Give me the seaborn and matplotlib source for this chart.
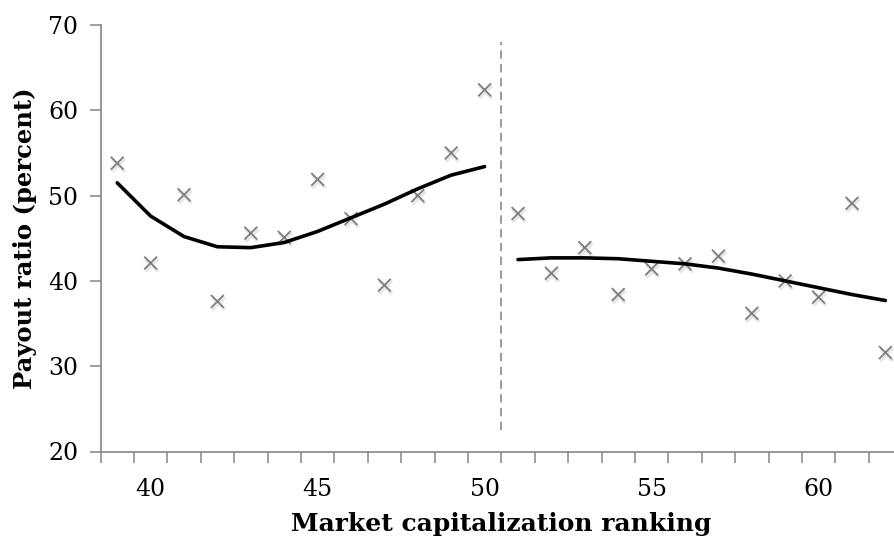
import numpy as np
import pandas as pd
import matplotlib
matplotlib.use("Agg")
import matplotlib.pyplot as plt
import matplotlib.patheffects as pe
import seaborn as sns

# Data
rank_left = [39, 40, 41, 42, 43, 44, 45, 46, 47, 48, 49, 50]
payout_left = [53.8, 42.1, 50.1, 37.6, 45.6, 45.1, 51.9, 47.3, 39.5, 50.0, 55.0, 62.4]
fit_left = [51.5, 47.6, 45.2, 44.0, 43.9, 44.5, 45.8, 47.4, 49.0, 50.8, 52.4, 53.4]

rank_right = [51, 52, 53, 54, 55, 56, 57, 58, 59, 60, 61, 62]
payout_right = [47.9, 40.9, 43.9, 38.4, 41.4, 42.0, 42.9, 36.2, 40.0, 38.1, 49.1, 31.6]
fit_right = [42.5, 42.7, 42.7, 42.6, 42.3, 42.0, 41.5, 40.8, 40.0, 39.2, 38.4, 37.7]

cutoff = 50.5
y_ticks = [20, 30, 40, 50, 60, 70]
x_labels = [40, 45, 50, 55, 60]
x_label = "Market capitalization ranking"
y_label = "Payout ratio (percent)"

sns.set_theme(style="white")
plt.rcParams['font.family'] = ['DejaVu Serif']
plt.rcParams['text.color'] = 'black'
plt.rcParams['axes.labelcolor'] = 'black'
plt.rcParams['xtick.color'] = 'black'
plt.rcParams['ytick.color'] = 'black'

fig = plt.figure(figsize=(8.94, 5.40), dpi=100)
ax = fig.add_axes([100.5 / 894, (540 - 451.5) / 540, 801.6 / 894, 426.5 / 540])

scatter_df = pd.DataFrame({"rank": rank_left + rank_right,
                           "payout": payout_left + payout_right})
grey = "#7f7f7f"
sns.scatterplot(data=scatter_df, x="rank", y="payout", marker="x", s=85,
                color=grey, linewidth=1.3, ax=ax, zorder=3,
                path_effects=[pe.SimpleLineShadow(offset=(0.8, -1.5), shadow_color="#b0b0b0", alpha=0.3, linewidth=2.5),
                              pe.Normal()])

sns.lineplot(x=rank_left, y=fit_left, color="black", linewidth=2.6, ax=ax, zorder=4)
sns.lineplot(x=rank_right, y=fit_right, color="black", linewidth=2.6, ax=ax, zorder=4)

ax.plot([cutoff, cutoff], [22.5, 68.0], color="#808080", linestyle=(0, (5.5, 3.5)), linewidth=1.1, zorder=2)

ax.set_xlim(38.5, 62.5)
ax.set_ylim(20, 70)

spine_c = "#868686"
for s in ["top", "right"]:
    ax.spines[s].set_visible(False)
for s in ["left", "bottom"]:
    ax.spines[s].set_color(spine_c)
    ax.spines[s].set_linewidth(1.2)

ax.set_yticks(y_ticks)
ax.set_yticklabels([str(v) for v in y_ticks])
ax.set_xticks(np.arange(38.5, 63.0, 1.0))
ax.set_xticklabels([])
ax.set_xticks(x_labels, minor=True)
ax.set_xticklabels([str(v) for v in x_labels], minor=True)
ax.tick_params(axis="x", which="major", direction="out", length=8, width=1.1, color=spine_c, bottom=True)
ax.tick_params(axis="x", which="minor", length=0, pad=19, labelsize=17, labelcolor="black", bottom=True)
ax.tick_params(axis="y", which="major", direction="out", length=8, width=1.1, color=spine_c, labelsize=17, labelcolor="black", pad=8, left=True)

ax.set_xlabel(x_label, fontsize=18, fontweight="bold", labelpad=8, color="black")
ax.set_ylabel(y_label, fontsize=17.5, fontweight="bold", labelpad=8, color="black")
ax.grid(False)

fig.savefig("out.png", dpi=100)
